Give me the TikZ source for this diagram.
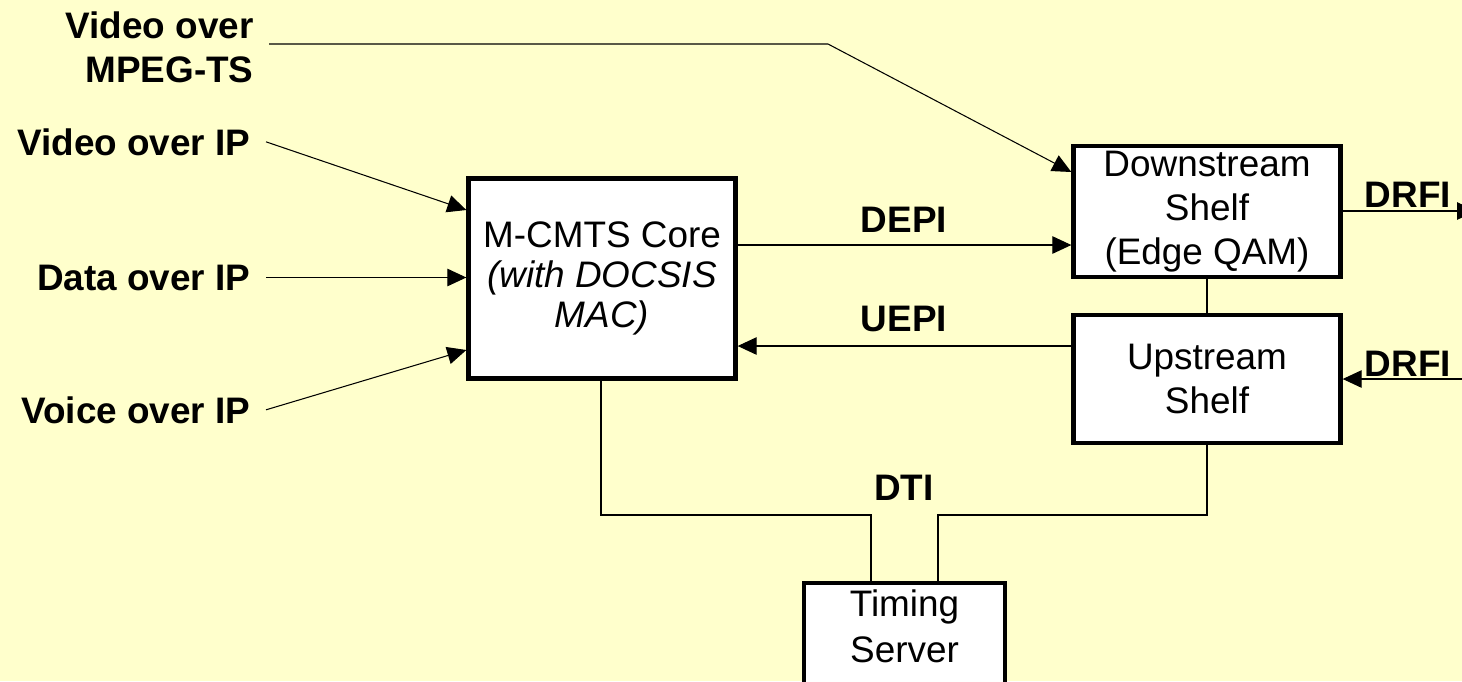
\documentclass[tikz,border=0pt]{standalone}
\usepackage{fontspec}
\setmainfont{Liberation Sans}
\usetikzlibrary{arrows.meta}
\definecolor{paleyellow}{HTML}{FFFFCC}
\begin{document}
\begin{tikzpicture}[x=0.02cm, y=-0.02cm, line width=0.6pt,
    every node/.style={font=\fontsize{21}{25.2}\selectfont},
    box/.style={draw, line width=2.5pt, fill=white, align=center, minimum width=5.34cm, inner sep=0pt},
    lbl/.style={font=\fontsize{21}{25.2}\selectfont\bfseries, inner xsep=0.3cm, inner ysep=0pt},
    arr/.style={-{Triangle[length=0.38cm, width=0.35cm]}}]
    \fill[paleyellow] (0,0) rectangle (1462,681);
    \useasboundingbox (0,0) rectangle (1462,681);

    \node[lbl, align=right, anchor=north east] (mpeg) at (269,11) {Video over\\MPEG-TS};
    \node[lbl, anchor=base east] (vip) at (266,155) {Video over IP};
    \node[lbl, anchor=base east] (dip) at (266,290) {Data over IP};
    \node[lbl, anchor=base east] (voip) at (266,423) {Voice over IP};

    \node[box, minimum height=4.0cm, font=\fontsize{21}{22.8}\selectfont] (core) at (602,278.5) {M-CMTS Core\\\textit{(with DOCSIS}\\\textit{MAC)}};
    \node[box, minimum height=2.62cm] (ds) at (1207,211.5) {Downstream\\Shelf\\(Edge QAM)};
    \node[box, minimum height=2.56cm] (us) at (1207,379) {Upstream\\Shelf};
    \node[box, minimum width=4.02cm, anchor=north, inner ysep=0.14cm, text depth=0.6cm, font=\fontsize{21}{26.2}\selectfont] (ts) at (904.5,581) {Timing\\Server};

    \node[lbl, anchor=base, inner xsep=0pt] (depi) at (904,232) {DEPI};
    \node[lbl, anchor=base, inner xsep=0pt] (uepi) at (904,331) {UEPI};
    \node[lbl, anchor=base, inner xsep=0pt] (dti) at (904,500) {DTI};
    \node[lbl, anchor=base, inner xsep=0pt] (drfid) at (1408,207) {DRFI};
    \node[lbl, anchor=base, inner xsep=0pt] (drfiu) at (1408,376) {DRFI};

    \coordinate (bend) at (828,44);
    \coordinate (dsout) at (1476,211);
    \coordinate (usin) at (1470,379);
    \coordinate (dtia) at (601,515);
    \coordinate (dtib) at (871,515);
    \coordinate (dtic) at (938,515);
    \coordinate (dtid) at (1207,515);

    \draw[arr] (mpeg.east |- bend) -- (bend) -- (ds.west |- 0,172);
    \draw[arr] (vip.east) -- (core.west |- 0,210);
    \draw[arr] (dip.east) -- (core.west |- dip.east);
    \draw[arr] (voip.east) -- (core.west |- 0,350);
    \draw[arr] (core.east |- 0,245) -- (ds.west |- 0,245);
    \draw[arr] (us.west |- 0,346) -- (core.east |- 0,346);
    \draw (ds.south) -- (us.north);
    \draw[arr] (ds.east |- dsout) -- (dsout);
    \draw[arr] (usin) -- (us.east |- usin);
    \draw (core.south -| dtia) -- (dtia) -- (dtib) -- (ts.north -| dtib);
    \draw (us.south -| dtid) -- (dtid) -- (dtic) -- (ts.north -| dtic);
\end{tikzpicture}
\end{document}
